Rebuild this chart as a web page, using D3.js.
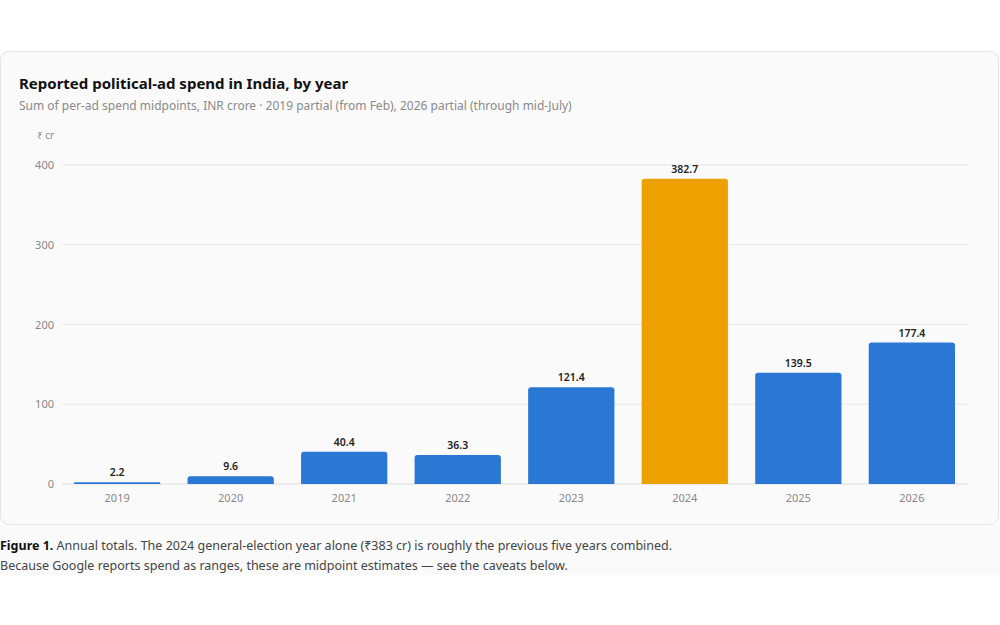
<!DOCTYPE html>
<html>
<head>
<meta charset="utf-8">
<script src="https://cdn.jsdelivr.net/npm/d3@7"></script>
<style>
  body { margin: 0; background: #fff; font-family: "Noto Sans", "Open Sans", sans-serif; }
</style>
</head>
<body>
<svg id="chart" width="1000" height="625"></svg>
<script>
// annual totals, INR crore
const YEARS = ['2019', '2020', '2021', '2022', '2023', '2024', '2025', '2026'];
const SPEND = [2.2, 9.6, 40.4, 36.3, 121.4, 382.7, 139.5, 177.4];
const Y_TICKS = [0, 100, 200, 300, 400];
const HIGHLIGHT = '2024';

const svg = d3.select('#chart');

// caption strip background + card
svg.append('rect').attr('x', 0).attr('y', 525).attr('width', 1000).attr('height', 50).attr('fill', '#fafafa');
svg.append('rect')
    .attr('x', 0.5).attr('y', 51.5).attr('width', 998).attr('height', 473)
    .attr('rx', 8).attr('fill', '#fafafa').attr('stroke', '#e4e4e4');

svg.append('text').attr('x', 19).attr('y', 89)
    .attr('font-size', 15).attr('font-weight', 700).attr('fill', '#111')
    .text('Reported political-ad spend in India, by year');
svg.append('text').attr('x', 19).attr('y', 110)
    .attr('font-size', 12).attr('fill', '#8a8a8a')
    .text('Sum of per-ad spend midpoints, INR crore · 2019 partial (from Feb), 2026 partial (through mid-July)');
svg.append('text').attr('x', 37).attr('y', 139)
    .attr('font-size', 10).attr('fill', '#8a8a8a').text('₹ cr');

let x = d3.scaleBand().domain(YEARS).range([74, 955]).paddingInner(0.24).paddingOuter(0);
let y = d3.scaleLinear().domain([0, 400]).range([484, 165]);

// grid
svg.append('g').selectAll('line').data(Y_TICKS).join('line')
    .attr('x1', 62).attr('x2', 968)
    .attr('y1', d => y(d)).attr('y2', d => y(d))
    .attr('stroke', d => d === 0 ? '#dcdcdc' : '#e9e9dc');

// y axis labels
svg.append('g').selectAll('text').data(Y_TICKS).join('text')
    .attr('x', 54).attr('y', d => y(d) + 4)
    .attr('text-anchor', 'end').attr('font-size', 11).attr('fill', '#888')
    .text(d => d);

const rows = YEARS.map((yr, i) => ({year: yr, value: SPEND[i]}));

// bars
svg.append('g').selectAll('path').data(rows).join('path')
    .attr('fill', d => d.year === HIGHLIGHT ? '#eca100' : '#2b78d4')
    .attr('d', d => {
        let x0 = x(d.year), w = x.bandwidth(), top = y(d.value), bot = y(0);
        let r = Math.min(3, (bot - top) / 2);
        return `M${x0},${bot}V${top + r}Q${x0},${top} ${x0 + r},${top}H${x0 + w - r}Q${x0 + w},${top} ${x0 + w},${top + r}V${bot}Z`;
    });

// value labels
svg.append('g').selectAll('text').data(rows).join('text')
    .attr('x', d => x(d.year) + x.bandwidth() / 2)
    .attr('y', d => y(d.value) - 6)
    .attr('text-anchor', 'middle').attr('font-size', 10.5).attr('font-weight', 600).attr('fill', '#222')
    .text(d => d.value.toFixed(1));

// x labels
svg.append('g').selectAll('text').data(YEARS).join('text')
    .attr('x', d => x(d) + x.bandwidth() / 2).attr('y', 502)
    .attr('text-anchor', 'middle').attr('font-size', 11).attr('fill', '#888')
    .text(d => d);

// caption
const cap = svg.append('text').attr('x', 0).attr('y', 550).attr('font-size', 12.5).attr('fill', '#444');
cap.append('tspan').attr('font-weight', 700).attr('fill', '#111').text('Figure 1.');
cap.append('tspan').text(' Annual totals. The 2024 general-election year alone (₹383 cr) is roughly the previous five years combined.');
svg.append('text').attr('x', 0).attr('y', 570).attr('font-size', 12.5).attr('fill', '#444')
    .text('Because Google reports spend as ranges, these are midpoint estimates — see the caveats below.');
</script>
</body>
</html>
